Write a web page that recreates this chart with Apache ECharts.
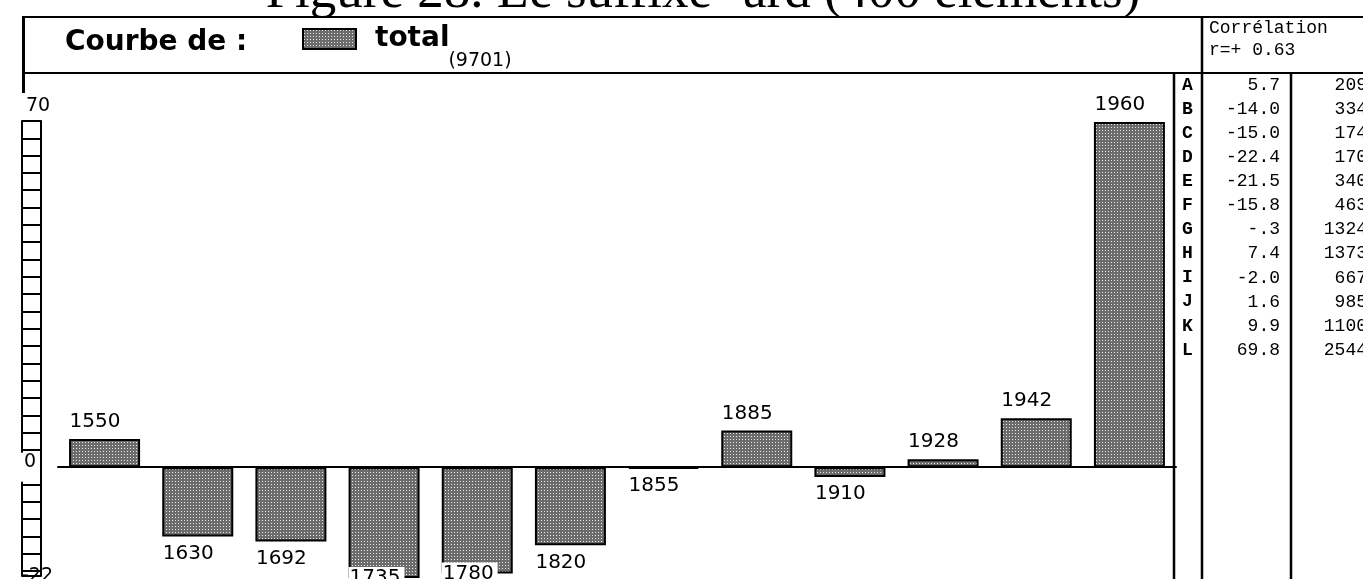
<!DOCTYPE html>
<html>
<head>
<meta charset="utf-8">
<script src="https://cdn.jsdelivr.net/npm/echarts@6/dist/echarts.min.js"></script>
<style>
html, body { margin: 0; padding: 0; background: #fff; }
#chart { width: 1363px; height: 579px; }
</style>
</head>
<body>
<div id="chart"></div>
<script>
// courbe du suffixe -ard : écart par période (tableau A..L à droite)
const years = ['1550', '1630', '1692', '1735', '1780', '1820', '1855', '1885', '1910', '1928', '1942', '1960']
const values = [5.7, -14.0, -15.0, -22.4, -21.5, -15.8, -0.3, 7.4, -2.0, 1.6, 9.9, 69.8]
const letters = ['A', 'B', 'C', 'D', 'E', 'F', 'G', 'H', 'I', 'J', 'K', 'L']
const counts = [209, 334, 174, 170, 340, 463, 1324, 1373, 667, 985, 1100, 2544]
const yLabels = [-22, 0, 70]
const yMin = -22
const yMax = 70
const tickStep = 3.5

const titleText = 'Figure 28. Le suffixe -ard (400 éléments)'
const seriesName = 'total'
const totalText = '(9701)'
const corrText = ['Corrélation', 'r=+ 0.63']

// petit motif gris pointillé (trame des barres)
function makePattern() {
	const c = document.createElement('canvas')
	c.width = 3
	c.height = 3
	const ctx = c.getContext('2d')
	ctx.fillStyle = '#6c6c6c'
	ctx.fillRect(0, 0, 3, 3)
	ctx.fillStyle = '#e8e8e8'
	ctx.fillRect(1, 1, 1, 1)
	return { image: c, repeat: 'repeat' }
}

// graduations de l'échelle en "échelle" (ladder)
const ticks = []
for (let v = yMax; v > 0.1; v -= tickStep) ticks.push(v)
for (let v = -tickStep; v > yMin; v -= tickStep) ticks.push(v)
ticks.push(yMin)

function fmtVal(v) {
	return v.toFixed(1).replace(/^(-?)0\./, '$1.')
}

const barData = values.map(v => {
	if (v >= 0) return { value: v, label: { position: 'top', offset: [-35, 0] } }
	if (v < yMin + 4) {
		// pas de place sous la barre : étiquette dans le bas de la barre
		return { value: v, label: { position: 'insideBottomLeft', distance: 0, offset: [0, 11], backgroundColor: '#fff', padding: [1, 4, 1, 1] } }
	}
	return { value: v, label: { position: 'bottom', offset: [-35, 0] } }
})

const black = '#000'
const monoFont = '18px "Liberation Mono"'
const gfx = [
	{ type: 'line', z: 10, shape: { x1: 22, y1: 17, x2: 1363, y2: 17 }, style: { stroke: black, lineWidth: 2 } },
	{ type: 'line', z: 10, shape: { x1: 22, y1: 73, x2: 1363, y2: 73 }, style: { stroke: black, lineWidth: 2 } },
	{ type: 'line', z: 10, shape: { x1: 23.5, y1: 16, x2: 23.5, y2: 93 }, style: { stroke: black, lineWidth: 3 } },
	{ type: 'line', z: 10, shape: { x1: 1174, y1: 73, x2: 1174, y2: 579 }, style: { stroke: black, lineWidth: 2.5 } },
	{ type: 'line', z: 10, shape: { x1: 1202, y1: 17, x2: 1202, y2: 579 }, style: { stroke: black, lineWidth: 2.5 } },
	{ type: 'line', z: 10, shape: { x1: 1291, y1: 73, x2: 1291, y2: 579 }, style: { stroke: black, lineWidth: 2.5 } },
	{ type: 'text', z: 11, x: 703, y: -7, style: { text: titleText, font: '53px "Liberation Serif"', fill: black, align: 'center', verticalAlign: 'middle' } },
	{ type: 'text', z: 11, x: 65, y: 43, style: { text: 'Courbe de :', font: 'bold 28px "DejaVu Sans"', fill: black, verticalAlign: 'middle' } },
	{ type: 'text', z: 11, x: 480, y: 61, style: { text: totalText, font: '19px "DejaVu Sans"', fill: black, align: 'center', verticalAlign: 'middle' } },
	{ type: 'text', z: 11, x: 1209, y: 28, style: { text: corrText[0], font: monoFont, fill: black, verticalAlign: 'middle' } },
	{ type: 'text', z: 11, x: 1209, y: 50, style: { text: corrText[1], font: monoFont, fill: black, verticalAlign: 'middle' } }
]
letters.forEach((l, i) => {
	const y = 85 + i * 24.1
	gfx.push({ type: 'text', z: 11, x: 1182, y: y, style: { text: l, font: 'bold ' + monoFont, fill: black, verticalAlign: 'middle' } })
	gfx.push({ type: 'text', z: 11, x: 1280, y: y, style: { text: fmtVal(values[i]), font: monoFont, fill: black, align: 'right', verticalAlign: 'middle' } })
	gfx.push({ type: 'text', z: 11, x: 1367, y: y, style: { text: String(counts[i]), font: monoFont, fill: black, align: 'right', verticalAlign: 'middle' } })
})

const pattern = makePattern()
const chart = echarts.init(document.getElementById('chart'))
const option = {
	animation: false,
	backgroundColor: '#fff',
	grid: { left: 58, right: 187, top: 121, bottom: 3, containLabel: false, outerBoundsMode: 'none' },
	legend: {
		left: 297,
		top: 20,
		icon: 'rect',
		itemWidth: 53,
		itemHeight: 20,
		selectedMode: false,
		data: [seriesName],
		itemStyle: { borderColor: black, borderWidth: 2 },
		textStyle: { fontFamily: 'DejaVu Sans', fontWeight: 'bold', fontSize: 28, color: black, padding: [0, 0, 0, 14] }
	},
	xAxis: {
		type: 'category',
		data: years,
		axisLine: { show: true, onZero: true, lineStyle: { color: black, width: 2 } },
		axisTick: { show: false },
		axisLabel: { show: false },
		splitLine: { show: false }
	},
	yAxis: [
		{
			type: 'value', min: yMin, max: yMax, position: 'left', offset: 17,
			axisLine: { show: true, onZero: false, lineStyle: { color: black, width: 2 } },
			axisTick: { show: true, customValues: ticks, length: 19, lineStyle: { color: black, width: 2 } },
			axisLabel: { show: false },
			splitLine: { show: false }
		},
		{
			type: 'value', min: yMin, max: yMax, position: 'left', offset: 36,
			axisLine: { show: true, onZero: false, lineStyle: { color: black, width: 2 } },
			axisTick: { show: false },
			axisLabel: {
				customValues: yLabels,
				inside: true,
				margin: -2,
				formatter: v => v === yMax ? '{up|' + v + '}' : v === 0 ? '{zero|0}' : '{low|' + v + '}',
				rich: {
					up: { fontFamily: 'DejaVu Sans', fontSize: 19, color: black, padding: [0, 0, 30, 6] },
					zero: { fontFamily: 'DejaVu Sans', fontSize: 19, color: black, backgroundColor: '#fff', padding: [0, 3, 10, 4] },
					low: { fontFamily: 'DejaVu Sans', fontSize: 19, color: black, padding: [0, 0, 0, 2] }
				}
			},
			splitLine: { show: false }
		}
	],
	graphic: gfx,
	series: [
		{
			name: seriesName,
			type: 'bar',
			yAxisIndex: 0,
			barWidth: 71,
			clip: false,
			data: barData,
			itemStyle: { color: pattern, borderColor: black, borderWidth: 2 },
			label: {
				show: true,
				formatter: '{b}',
				align: 'left',
				distance: 7,
				fontFamily: 'DejaVu Sans',
				fontSize: 20,
				color: black
			}
		}
	]
}
chart.setOption(option)
</script>
</body>
</html>
